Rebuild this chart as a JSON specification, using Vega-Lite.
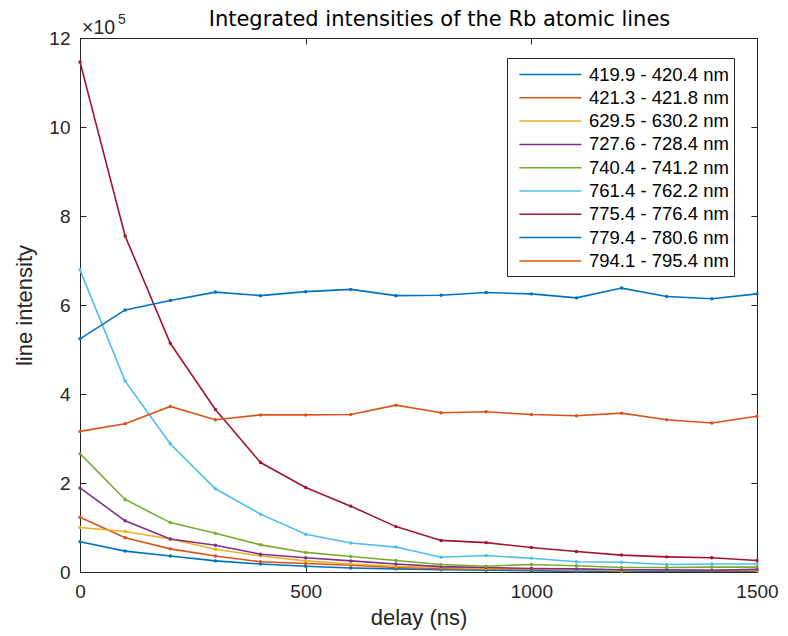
{
  "$schema": "https://vega.github.io/schema/vega-lite/v6.json",
  "autosize": "none",
  "width": 677,
  "height": 534,
  "padding": {"left": 80, "top": 38, "right": 31, "bottom": 64},
  "background": "white",
  "title": {"text": "Integrated intensities of the Rb atomic lines", "font": "DejaVu Sans", "fontSize": 21, "fontWeight": "normal", "color": "#000000", "anchor": "middle", "frame": "group", "offset": 12, "dy": 29, "dx": 21},
  "config": {
    "view": {"stroke": "#262626", "strokeWidth": 1},
    "axis": {"grid": false, "labelFlush": false, "domainColor": "#262626", "tickColor": "#262626", "labelColor": "#262626", "titleColor": "#262626", "labelFont": "Liberation Sans", "titleFont": "Liberation Sans", "labelFontSize": 19, "titleFontSize": 22, "titleFontWeight": "normal", "tickSize": -6, "domainWidth": 1, "tickWidth": 1}
  },
  "data": {"values": [
    {"s": "419.9 - 420.4 nm", "t": 0, "v": 68000}, {"s": "419.9 - 420.4 nm", "t": 100, "v": 47000}, {"s": "419.9 - 420.4 nm", "t": 200, "v": 36000}, {"s": "419.9 - 420.4 nm", "t": 300, "v": 25000}, {"s": "419.9 - 420.4 nm", "t": 400, "v": 18000}, {"s": "419.9 - 420.4 nm", "t": 500, "v": 13000}, {"s": "419.9 - 420.4 nm", "t": 600, "v": 9000}, {"s": "419.9 - 420.4 nm", "t": 700, "v": 7000}, {"s": "419.9 - 420.4 nm", "t": 800, "v": 5000}, {"s": "419.9 - 420.4 nm", "t": 900, "v": 4000}, {"s": "419.9 - 420.4 nm", "t": 1000, "v": 3000}, {"s": "419.9 - 420.4 nm", "t": 1100, "v": 1000}, {"s": "419.9 - 420.4 nm", "t": 1200, "v": 2000}, {"s": "419.9 - 420.4 nm", "t": 1300, "v": 2000}, {"s": "419.9 - 420.4 nm", "t": 1400, "v": 2000}, {"s": "419.9 - 420.4 nm", "t": 1500, "v": 2000},
    {"s": "421.3 - 421.8 nm", "t": 0, "v": 123000}, {"s": "421.3 - 421.8 nm", "t": 100, "v": 77000}, {"s": "421.3 - 421.8 nm", "t": 200, "v": 52000}, {"s": "421.3 - 421.8 nm", "t": 300, "v": 36000}, {"s": "421.3 - 421.8 nm", "t": 400, "v": 23000}, {"s": "421.3 - 421.8 nm", "t": 500, "v": 19000}, {"s": "421.3 - 421.8 nm", "t": 600, "v": 15000}, {"s": "421.3 - 421.8 nm", "t": 700, "v": 10000}, {"s": "421.3 - 421.8 nm", "t": 800, "v": 8000}, {"s": "421.3 - 421.8 nm", "t": 900, "v": 7000}, {"s": "421.3 - 421.8 nm", "t": 1000, "v": 6000}, {"s": "421.3 - 421.8 nm", "t": 1100, "v": 5000}, {"s": "421.3 - 421.8 nm", "t": 1200, "v": 4000}, {"s": "421.3 - 421.8 nm", "t": 1300, "v": 4000}, {"s": "421.3 - 421.8 nm", "t": 1400, "v": 3000}, {"s": "421.3 - 421.8 nm", "t": 1500, "v": 3000},
    {"s": "629.5 - 630.2 nm", "t": 0, "v": 100000}, {"s": "629.5 - 630.2 nm", "t": 100, "v": 91000}, {"s": "629.5 - 630.2 nm", "t": 200, "v": 74000}, {"s": "629.5 - 630.2 nm", "t": 300, "v": 51000}, {"s": "629.5 - 630.2 nm", "t": 400, "v": 36000}, {"s": "629.5 - 630.2 nm", "t": 500, "v": 25000}, {"s": "629.5 - 630.2 nm", "t": 600, "v": 18000}, {"s": "629.5 - 630.2 nm", "t": 700, "v": 13000}, {"s": "629.5 - 630.2 nm", "t": 800, "v": 10000}, {"s": "629.5 - 630.2 nm", "t": 900, "v": 8000}, {"s": "629.5 - 630.2 nm", "t": 1000, "v": 7000}, {"s": "629.5 - 630.2 nm", "t": 1100, "v": 6000}, {"s": "629.5 - 630.2 nm", "t": 1200, "v": 3000}, {"s": "629.5 - 630.2 nm", "t": 1300, "v": 5000}, {"s": "629.5 - 630.2 nm", "t": 1400, "v": 4000}, {"s": "629.5 - 630.2 nm", "t": 1500, "v": 4000},
    {"s": "727.6 - 728.4 nm", "t": 0, "v": 189000}, {"s": "727.6 - 728.4 nm", "t": 100, "v": 115000}, {"s": "727.6 - 728.4 nm", "t": 200, "v": 74000}, {"s": "727.6 - 728.4 nm", "t": 300, "v": 60000}, {"s": "727.6 - 728.4 nm", "t": 400, "v": 40000}, {"s": "727.6 - 728.4 nm", "t": 500, "v": 32000}, {"s": "727.6 - 728.4 nm", "t": 600, "v": 25000}, {"s": "727.6 - 728.4 nm", "t": 700, "v": 18000}, {"s": "727.6 - 728.4 nm", "t": 800, "v": 12000}, {"s": "727.6 - 728.4 nm", "t": 900, "v": 10000}, {"s": "727.6 - 728.4 nm", "t": 1000, "v": 8000}, {"s": "727.6 - 728.4 nm", "t": 1100, "v": 7000}, {"s": "727.6 - 728.4 nm", "t": 1200, "v": 5000}, {"s": "727.6 - 728.4 nm", "t": 1300, "v": 5000}, {"s": "727.6 - 728.4 nm", "t": 1400, "v": 4000}, {"s": "727.6 - 728.4 nm", "t": 1500, "v": 6000},
    {"s": "740.4 - 741.2 nm", "t": 0, "v": 266000}, {"s": "740.4 - 741.2 nm", "t": 100, "v": 163000}, {"s": "740.4 - 741.2 nm", "t": 200, "v": 111000}, {"s": "740.4 - 741.2 nm", "t": 300, "v": 87000}, {"s": "740.4 - 741.2 nm", "t": 400, "v": 61000}, {"s": "740.4 - 741.2 nm", "t": 500, "v": 44000}, {"s": "740.4 - 741.2 nm", "t": 600, "v": 35000}, {"s": "740.4 - 741.2 nm", "t": 700, "v": 26000}, {"s": "740.4 - 741.2 nm", "t": 800, "v": 17000}, {"s": "740.4 - 741.2 nm", "t": 900, "v": 13000}, {"s": "740.4 - 741.2 nm", "t": 1000, "v": 17000}, {"s": "740.4 - 741.2 nm", "t": 1100, "v": 14000}, {"s": "740.4 - 741.2 nm", "t": 1200, "v": 10000}, {"s": "740.4 - 741.2 nm", "t": 1300, "v": 10000}, {"s": "740.4 - 741.2 nm", "t": 1400, "v": 11000}, {"s": "740.4 - 741.2 nm", "t": 1500, "v": 11000},
    {"s": "761.4 - 762.2 nm", "t": 0, "v": 679000}, {"s": "761.4 - 762.2 nm", "t": 100, "v": 429000}, {"s": "761.4 - 762.2 nm", "t": 200, "v": 288000}, {"s": "761.4 - 762.2 nm", "t": 300, "v": 187000}, {"s": "761.4 - 762.2 nm", "t": 400, "v": 130000}, {"s": "761.4 - 762.2 nm", "t": 500, "v": 85000}, {"s": "761.4 - 762.2 nm", "t": 600, "v": 65000}, {"s": "761.4 - 762.2 nm", "t": 700, "v": 56000}, {"s": "761.4 - 762.2 nm", "t": 800, "v": 33000}, {"s": "761.4 - 762.2 nm", "t": 900, "v": 37000}, {"s": "761.4 - 762.2 nm", "t": 1000, "v": 31000}, {"s": "761.4 - 762.2 nm", "t": 1100, "v": 23000}, {"s": "761.4 - 762.2 nm", "t": 1200, "v": 22000}, {"s": "761.4 - 762.2 nm", "t": 1300, "v": 17000}, {"s": "761.4 - 762.2 nm", "t": 1400, "v": 18000}, {"s": "761.4 - 762.2 nm", "t": 1500, "v": 18000},
    {"s": "775.4 - 776.4 nm", "t": 0, "v": 1146000}, {"s": "775.4 - 776.4 nm", "t": 100, "v": 755000}, {"s": "775.4 - 776.4 nm", "t": 200, "v": 514000}, {"s": "775.4 - 776.4 nm", "t": 300, "v": 365000}, {"s": "775.4 - 776.4 nm", "t": 400, "v": 246000}, {"s": "775.4 - 776.4 nm", "t": 500, "v": 190000}, {"s": "775.4 - 776.4 nm", "t": 600, "v": 148000}, {"s": "775.4 - 776.4 nm", "t": 700, "v": 102000}, {"s": "775.4 - 776.4 nm", "t": 800, "v": 71000}, {"s": "775.4 - 776.4 nm", "t": 900, "v": 66000}, {"s": "775.4 - 776.4 nm", "t": 1000, "v": 55000}, {"s": "775.4 - 776.4 nm", "t": 1100, "v": 46000}, {"s": "775.4 - 776.4 nm", "t": 1200, "v": 38000}, {"s": "775.4 - 776.4 nm", "t": 1300, "v": 34000}, {"s": "775.4 - 776.4 nm", "t": 1400, "v": 32000}, {"s": "775.4 - 776.4 nm", "t": 1500, "v": 26000},
    {"s": "779.4 - 780.6 nm", "t": 0, "v": 524000}, {"s": "779.4 - 780.6 nm", "t": 100, "v": 589000}, {"s": "779.4 - 780.6 nm", "t": 200, "v": 610000}, {"s": "779.4 - 780.6 nm", "t": 300, "v": 629000}, {"s": "779.4 - 780.6 nm", "t": 400, "v": 621000}, {"s": "779.4 - 780.6 nm", "t": 500, "v": 630000}, {"s": "779.4 - 780.6 nm", "t": 600, "v": 635000}, {"s": "779.4 - 780.6 nm", "t": 700, "v": 621000}, {"s": "779.4 - 780.6 nm", "t": 800, "v": 622000}, {"s": "779.4 - 780.6 nm", "t": 900, "v": 628000}, {"s": "779.4 - 780.6 nm", "t": 1000, "v": 625000}, {"s": "779.4 - 780.6 nm", "t": 1100, "v": 616000}, {"s": "779.4 - 780.6 nm", "t": 1200, "v": 638000}, {"s": "779.4 - 780.6 nm", "t": 1300, "v": 619000}, {"s": "779.4 - 780.6 nm", "t": 1400, "v": 614000}, {"s": "779.4 - 780.6 nm", "t": 1500, "v": 625000},
    {"s": "794.1 - 795.4 nm", "t": 0, "v": 316000}, {"s": "794.1 - 795.4 nm", "t": 100, "v": 333000}, {"s": "794.1 - 795.4 nm", "t": 200, "v": 372000}, {"s": "794.1 - 795.4 nm", "t": 300, "v": 342000}, {"s": "794.1 - 795.4 nm", "t": 400, "v": 353000}, {"s": "794.1 - 795.4 nm", "t": 500, "v": 353000}, {"s": "794.1 - 795.4 nm", "t": 600, "v": 354000}, {"s": "794.1 - 795.4 nm", "t": 700, "v": 375000}, {"s": "794.1 - 795.4 nm", "t": 800, "v": 358000}, {"s": "794.1 - 795.4 nm", "t": 900, "v": 360000}, {"s": "794.1 - 795.4 nm", "t": 1000, "v": 354000}, {"s": "794.1 - 795.4 nm", "t": 1100, "v": 351000}, {"s": "794.1 - 795.4 nm", "t": 1200, "v": 357000}, {"s": "794.1 - 795.4 nm", "t": 1300, "v": 342000}, {"s": "794.1 - 795.4 nm", "t": 1400, "v": 335000}, {"s": "794.1 - 795.4 nm", "t": 1500, "v": 350000}
  ]},
  "layer": [
    {
      "mark": {"type": "line", "strokeWidth": 1.6, "point": {"filled": true, "size": 12}},
      "encoding": {
        "x": {"field": "t", "type": "quantitative", "scale": {"domain": [0, 1500], "nice": false}, "axis": {"orient": "bottom", "title": "delay (ns)", "values": [0, 500, 1000, 1500], "format": "d", "labelPadding": 16, "titlePadding": 6}},
        "y": {"field": "v", "type": "quantitative", "scale": {"domain": [0, 1200000], "nice": false}, "axis": {"orient": "left", "title": "line intensity", "values": [0, 200000, 400000, 600000, 800000, 1000000, 1200000], "labelExpr": "format(datum.value / 100000, 'd')", "labelPadding": 16, "titlePadding": 12}},
        "color": {"field": "s", "type": "nominal", "sort": null,
          "scale": {"domain": ["419.9 - 420.4 nm", "421.3 - 421.8 nm", "629.5 - 630.2 nm", "727.6 - 728.4 nm", "740.4 - 741.2 nm", "761.4 - 762.2 nm", "775.4 - 776.4 nm", "779.4 - 780.6 nm", "794.1 - 795.4 nm"],
            "range": ["#0072BD", "#D95319", "#EDB120", "#7E2F8E", "#77AC30", "#4DBEEE", "#A2142F", "#0072BD", "#D95319"]},
          "legend": {"orient": "none", "legendX": 427, "legendY": 20, "title": null, "symbolType": "M-0.4,0H5.6", "symbolSize": 427, "symbolStrokeWidth": 1.5, "labelOffset": 54, "labelFontSize": 18.5, "labelFont": "Liberation Sans", "labelColor": "#000000", "padding": 5, "rowPadding": 2.3, "strokeColor": "#262626", "fillColor": "white", "labelExpr": "datum.label + '\u00a0\u00a0'"}}
      }
    },
    {
      "data": {"values": [{}]},
      "mark": {"type": "text", "align": "left", "baseline": "alphabetic", "dx": 2, "dy": -4, "font": "Liberation Sans", "fontSize": 19.5, "color": "#262626"},
      "encoding": {
        "x": {"datum": 0, "type": "quantitative", "axis": null},
        "y": {"datum": 1200000, "type": "quantitative", "axis": null},
        "text": {"value": "×10"}
      }
    },
    {
      "data": {"values": [{}]},
      "mark": {"type": "text", "align": "left", "baseline": "alphabetic", "dx": 38, "dy": -14, "font": "Liberation Sans", "fontSize": 14, "color": "#262626"},
      "encoding": {
        "x": {"datum": 0, "type": "quantitative", "axis": null},
        "y": {"datum": 1200000, "type": "quantitative", "axis": null},
        "text": {"value": "5"}
      }
    },
    {
      "mark": {"type": "point", "opacity": 0},
      "encoding": {
        "x": {"field": "t", "type": "quantitative", "axis": {"orient": "top", "title": null, "labels": false, "values": [0, 500, 1000, 1500]}},
        "y": {"field": "v", "type": "quantitative", "axis": {"orient": "right", "title": null, "labels": false, "values": [0, 200000, 400000, 600000, 800000, 1000000, 1200000]}}
      }
    }
  ],
  "resolve": {"axis": {"x": "independent", "y": "independent"}}
}
